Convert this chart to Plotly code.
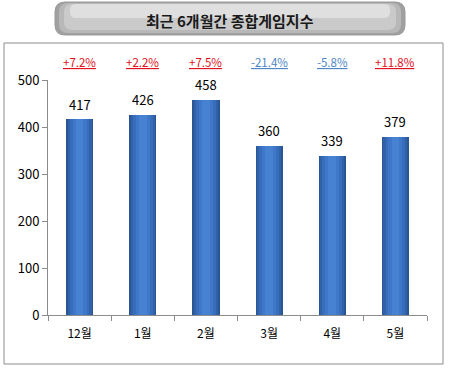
import plotly.graph_objects as go

categories = ["12월", "1월", "2월", "3월", "4월", "5월"]
values = [417, 426, 458, 360, 339, 379]
changes = ["+7.2%", "+2.2%", "+7.5%", "-21.4%", "-5.8%", "+11.8%"]
title_text = "최근 6개월간 종합게임지수"
y_ticks = [0, 100, 200, 300, 400, 500]

FONT = "Noto Sans CJK KR, Malgun Gothic, sans-serif"
W, H = 449, 371
L, R, T, B = 48, 22, 80, 56
pw, ph = W - L - R, H - T - B

def px(x):
    return (x - L) / pw

def py(y):
    return (H - B - y) / ph

fig = go.Figure()
# layered bars to imitate cylindrical shading
layers = [(0.43, "#2a5696"), (0.38, "#3162a8"), (0.31, "#386dbb"), (0.22, "#3f78c8"), (0.12, "#4782d2")]
for w, c in layers:
    fig.add_trace(go.Bar(x=categories, y=values, width=w, marker=dict(color=c, line=dict(width=0)),
                         hoverinfo="skip", showlegend=False))

# value labels
for cat, v in zip(categories, values):
    fig.add_annotation(x=cat, y=v, text=str(v), showarrow=False, xanchor="center", yanchor="middle",
                       yshift=15, font=dict(size=13, color="#000", family=FONT))

for cat, ch in zip(categories, changes):
    col = "#e0101e" if ch.startswith("+") else "#4f86c6"
    fig.add_annotation(x=cat, y=py(62), yref="paper", text=f"<u>{ch}</u>", showarrow=False,
                       xanchor="center", yanchor="middle",
                       font=dict(size=11.5, color=col, family=FONT))

shapes = []
# outer frame
shapes.append(dict(type="rect", xref="paper", yref="paper", x0=px(4), x1=px(443), y0=py(364), y1=py(43),
                   line=dict(color="#8c8c8c", width=1), fillcolor="rgba(0,0,0,0)", layer="below"))

def rrect(x0, y0, x1, y1, r):
    return (f"M{px(x0+r)},{py(y0)} L{px(x1-r)},{py(y0)} Q{px(x1)},{py(y0)} {px(x1)},{py(y0+r)} "
            f"L{px(x1)},{py(y1-r)} Q{px(x1)},{py(y1)} {px(x1-r)},{py(y1)} L{px(x0+r)},{py(y1)} "
            f"Q{px(x0)},{py(y1)} {px(x0)},{py(y1-r)} L{px(x0)},{py(y0+r)} Q{px(x0)},{py(y0)} {px(x0+r)},{py(y0)} Z")

shapes.append(dict(type="path", xref="paper", yref="paper", path=rrect(55, 2, 405, 35, 10),
                   fillcolor="#a0a0a0", line=dict(color="#9a9a9a", width=1)))
shapes.append(dict(type="path", xref="paper", yref="paper", path=rrect(59, 3, 401, 33, 9),
                   fillcolor="#b8b8b8", line=dict(width=0)))
shapes.append(dict(type="path", xref="paper", yref="paper", path=rrect(64, 4, 396, 30, 8),
                   fillcolor="#cacaca", line=dict(width=0)))
shapes.append(dict(type="path", xref="paper", yref="paper", path=rrect(70, 4, 390, 18, 6),
                   fillcolor="#dfdfdf", line=dict(width=0)))
fig.add_annotation(x=px(230), y=py(20), xref="paper", yref="paper", text=f"<b>{title_text}</b>",
                   showarrow=False, xanchor="center", yanchor="middle",
                   font=dict(size=15, color="#1a1a1a", family=FONT))

fig.update_layout(
    width=W, height=H, margin=dict(l=L, r=R, t=T, b=B),
    paper_bgcolor="white", plot_bgcolor="white", barmode="overlay", bargap=0,
    shapes=shapes, showlegend=False,
    font=dict(family=FONT, size=12, color="#000"),
)
fig.update_xaxes(showline=True, linecolor="#8c8c8c", linewidth=1, ticks="outside", ticklen=5,
                 tickcolor="#8c8c8c", tickson="boundaries", showgrid=False, ticklabelstandoff=8,
                 tickfont=dict(size=12, family=FONT, color="#000"), fixedrange=True)
fig.update_yaxes(range=[0, 500], tickvals=y_ticks, showline=True, linecolor="#8c8c8c", linewidth=1,
                 ticks="outside", ticklen=5, tickcolor="#8c8c8c", showgrid=False, zeroline=False,
                 tickfont=dict(size=13, family=FONT, color="#000"), fixedrange=True)

fig.write_html("out.html", config={"displayModeBar": False},
               post_script="document.body.style.margin='0';document.body.style.overflow='hidden';")
